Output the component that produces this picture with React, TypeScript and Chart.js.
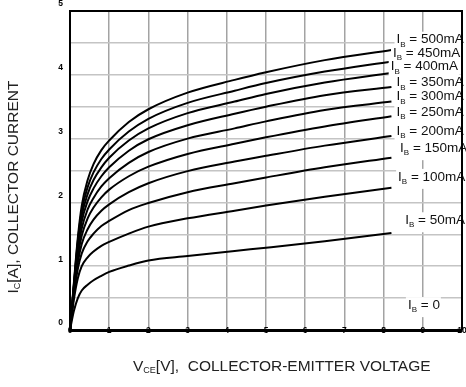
import React, { useEffect, useRef } from 'react';
import { Chart, registerables } from 'chart.js';

Chart.register(...registerables);

// ---- data ----
const vce = [0, 0.1, 0.2, 0.3, 0.45, 0.6, 0.8, 1.0, 1.5, 2.0, 3.0, 4.2, 5.0, 6.5, 8.2];
const ib500 = [0, 0.75, 1.45, 1.95, 2.35, 2.6, 2.82, 2.97, 3.26, 3.46, 3.72, 3.92, 4.04, 4.23, 4.39];
const ib450 = [0, 0.72, 1.4, 1.87, 2.24, 2.47, 2.68, 2.83, 3.11, 3.31, 3.56, 3.75, 3.87, 4.05, 4.21];
const ib400 = [0, 0.7, 1.35, 1.79, 2.13, 2.35, 2.55, 2.7, 2.97, 3.16, 3.4, 3.58, 3.7, 3.88, 4.03];
const ib350 = [0, 0.68, 1.29, 1.7, 2.02, 2.22, 2.41, 2.55, 2.81, 2.99, 3.21, 3.39, 3.5, 3.68, 3.81];
const ib300 = [0, 0.66, 1.22, 1.59, 1.89, 2.07, 2.25, 2.38, 2.62, 2.79, 3.0, 3.16, 3.27, 3.45, 3.58];
const ib250 = [0, 0.63, 1.15, 1.48, 1.75, 1.92, 2.08, 2.2, 2.41, 2.56, 2.76, 2.92, 3.02, 3.19, 3.35];
const ib200 = [0, 0.6, 1.06, 1.35, 1.58, 1.73, 1.87, 1.97, 2.16, 2.3, 2.49, 2.64, 2.73, 2.89, 3.04];
const ib150 = [0, 0.55, 0.96, 1.2, 1.39, 1.51, 1.63, 1.71, 1.88, 1.99, 2.16, 2.3, 2.39, 2.55, 2.7];
const ib100 = [0, 0.48, 0.81, 1.0, 1.14, 1.23, 1.32, 1.38, 1.51, 1.62, 1.75, 1.87, 1.95, 2.09, 2.23];
const ib50 = [0, 0.3, 0.5, 0.62, 0.71, 0.78, 0.85, 0.91, 1.01, 1.09, 1.16, 1.24, 1.29, 1.39, 1.52];

const seriesNames = ['500mA', '450mA', '400mA', '350mA', '300mA', '250mA', '200mA', '150mA', '100mA', '50mA'];
const seriesValues = [ib500, ib450, ib400, ib350, ib300, ib250, ib200, ib150, ib100, ib50];

// annotation labels (anchor in data units: V, A)
const labelNames = ['500mA', '450mA', '400mA', '350mA', '300mA', '250mA', '200mA', '150mA', '100mA', '50mA', '0'];
const labelV = [8.33, 8.24, 8.18, 8.33, 8.33, 8.33, 8.33, 8.42, 8.37, 8.55, 8.62];
const labelI = [4.55, 4.34, 4.13, 3.88, 3.66, 3.42, 3.12, 2.85, 2.4, 1.72, 0.39];

const xMin = 0, xMax = 10, xStep = 1;
const yMin = 0, yMax = 5, yStep = 0.5;

const FONT = '"Liberation Sans", Arial, sans-serif';

type Seg = [string, boolean];

function richWidth(ctx: CanvasRenderingContext2D, segs: Seg[], size: number, subSize: number) {
  let w = 0;
  for (const [t, sub] of segs) {
    ctx.font = `${sub ? subSize : size}px ${FONT}`;
    w += ctx.measureText(t).width;
  }
  return w;
}

function drawRich(ctx: CanvasRenderingContext2D, x: number, y: number, segs: Seg[], size: number, subSize: number, subDy: number) {
  let cx = x;
  for (const [t, sub] of segs) {
    ctx.font = `${sub ? subSize : size}px ${FONT}`;
    ctx.fillText(t, cx, sub ? y + subDy : y);
    cx += ctx.measureText(t).width;
  }
  return cx - x;
}

const decor = {
  id: 'decor',
  afterDatasetsDraw(chart: any) {
    const { ctx, chartArea: ca, scales } = chart;
    const xs = scales.x, ys = scales.y;
    ctx.save();
    ctx.textBaseline = 'middle';
    ctx.textAlign = 'left';

    // curve labels
    const items = labelNames.map((n, i) => {
      const segs: Seg[] = [['I', false], ['B', true], [' = ' + n, false]];
      return {
        segs,
        px: xs.getPixelForValue(labelV[i]),
        py: ys.getPixelForValue(labelI[i]),
        w: richWidth(ctx, segs, 13.5, 8),
      };
    });
    ctx.fillStyle = '#ffffff';
    for (const it of items) ctx.fillRect(it.px - 2, it.py - 8, it.w + 3, 20);
    ctx.fillStyle = '#111';
    for (const it of items) drawRich(ctx, it.px, it.py, it.segs, 13.5, 8, 5);

    // top & right frame
    ctx.strokeStyle = '#000';
    ctx.lineWidth = 2;
    ctx.beginPath();
    ctx.moveTo(ca.left, ca.top);
    ctx.lineTo(ca.right, ca.top);
    ctx.lineTo(ca.right, ca.bottom);
    ctx.stroke();

    // x tick labels, sitting on the axis line
    ctx.fillStyle = '#000';
    ctx.textAlign = 'center';
    ctx.font = `bold 8.5px ${FONT}`;
    for (const t of xs.ticks) {
      ctx.fillText(String(t.value), xs.getPixelForValue(t.value), ca.bottom + 0.5);
    }
    ctx.textAlign = 'left';

    // x title
    const xt: Seg[] = [['V', false], ['CE', true], ['[V],  COLLECTOR-EMITTER VOLTAGE', false]];
    ctx.fillStyle = '#222';
    drawRich(ctx, ca.left + 63, ca.bottom + 37, xt, 15.5, 9, 4);

    // y title (rotated)
    const yt: Seg[] = [['I', false], ['C', true], ['[A], COLLECTOR CURRENT', false]];
    const yw = richWidth(ctx, yt, 15.5, 9);
    ctx.translate(14, 187);
    ctx.rotate(-Math.PI / 2);
    drawRich(ctx, -yw / 2, 0, yt, 15.5, 9, 4);
    ctx.restore();
  },
};

export default function App() {
  const ref = useRef<HTMLCanvasElement>(null);
  useEffect(() => {
    const datasets = seriesValues.map((vals, k) => ({
      label: seriesNames[k],
      data: vce.map((v, i) => ({ x: v, y: vals[i] })),
      borderColor: '#000',
      borderWidth: 2,
      pointRadius: 0,
      fill: false,
      cubicInterpolationMode: 'monotone' as const,
    }));
    const chart = new Chart(ref.current!, {
      type: 'line',
      data: { datasets },
      options: {
        animation: false,
        responsive: true,
        maintainAspectRatio: false,
        layout: { padding: { top: 11, right: 4, left: 0, bottom: 0 } },
        plugins: { legend: { display: false }, tooltip: { enabled: false }, title: { display: false } },
        scales: {
          x: {
            type: 'linear',
            min: xMin,
            max: xMax,
            ticks: { stepSize: xStep, display: false, autoSkip: false },
            grid: { color: '#a3a3a3', lineWidth: 1.5, drawTicks: false },
            border: { color: '#000', width: 3 },
            afterFit: (s: any) => {
              s.height = 57;
              s.paddingLeft = 0;
              s.paddingRight = 0;
            },
          },
          y: {
            type: 'linear',
            min: yMin,
            max: yMax,
            ticks: {
              stepSize: yStep,
              padding: 7,
              labelOffset: -7,
              color: '#000',
              font: { size: 8.5, weight: 'bold', family: FONT },
              callback: (v: any) => (Number.isInteger(v) ? String(v) : ''),
            },
            grid: { color: '#c4c4c4', lineWidth: 1.5, drawTicks: false },
            border: { color: '#000', width: 2 },
            afterFit: (s: any) => {
              s.width = 70;
              s.paddingTop = 0;
              s.paddingBottom = 0;
            },
          },
        },
      } as any,
      plugins: [decor],
    });
    return () => chart.destroy();
  }, []);
  return (
    <div style={{ position: 'fixed', left: 0, top: 0, width: 466, height: 387, background: '#fff' }}>
      <canvas ref={ref} />
    </div>
  );
}
